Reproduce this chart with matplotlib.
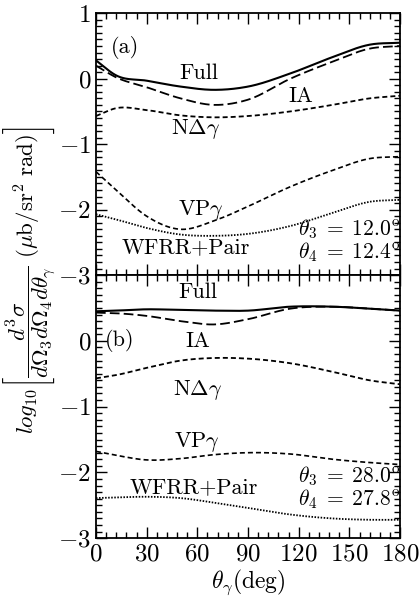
import matplotlib
matplotlib.use('Agg')
import matplotlib.pyplot as plt
import numpy as np
from matplotlib.ticker import MultipleLocator

plt.rcParams['font.family'] = 'cmr10'
plt.rcParams['mathtext.fontset'] = 'cm'
plt.rcParams['axes.formatter.use_mathtext'] = True
plt.rcParams['lines.scale_dashes'] = False

# panel (a): theta3 = 12.0, theta4 = 12.4
theta = [0, 12, 30, 50, 70, 90, 115, 140, 162, 180]
full_a = [0.28, 0.05, -0.03, -0.12, -0.17, -0.12, 0.08, 0.33, 0.52, 0.55]
ia_a = [0.20, 0.02, -0.13, -0.30, -0.40, -0.32, 0.00, 0.26, 0.46, 0.50]
ndg_a = [-0.57, -0.45, -0.48, -0.56, -0.59, -0.57, -0.50, -0.40, -0.30, -0.26]
vpg_a = [-1.42, -1.70, -2.10, -2.30, -2.17, -1.95, -1.65, -1.40, -1.22, -1.19]
wfrr_a = [-2.07, -2.15, -2.28, -2.38, -2.40, -2.37, -2.25, -2.05, -1.88, -1.85]

# panel (b): theta3 = 28.0, theta4 = 27.8
full_b = [0.45, 0.46, 0.48, 0.47, 0.46, 0.46, 0.52, 0.52, 0.49, 0.46]
ia_b = [0.43, 0.42, 0.38, 0.30, 0.25, 0.33, 0.49, 0.52, 0.49, 0.46]
ndg_b = [-0.57, -0.52, -0.41, -0.30, -0.26, -0.27, -0.34, -0.47, -0.60, -0.66]
vpg_b = [-1.68, -1.74, -1.81, -1.79, -1.73, -1.70, -1.72, -1.80, -1.85, -1.88]
wfrr_b = [-2.39, -2.38, -2.37, -2.39, -2.46, -2.54, -2.64, -2.70, -2.72, -2.72]

styles = {
    'full': dict(ls='-', lw=1.5),
    'ia': dict(ls=(0, (7, 3)), lw=1.3),
    'ndg': dict(ls=(0, (3.6, 2.2)), lw=1.3),
    'vpg': dict(ls=(0, (3.6, 2.2)), lw=1.2),
    'wfrr': dict(ls=(0, (1.1, 1.1)), lw=1.3),
}


def smooth(x, y):
    """ Cubic Hermite curve through the read points """
    x = np.asarray(x, float)
    y = np.asarray(y, float)
    m = np.gradient(y, x)
    xs = np.linspace(x[0], x[-1], 361)
    idx = np.clip(np.searchsorted(x, xs, side='right') - 1, 0, len(x) - 2)
    h = x[idx + 1] - x[idx]
    t = (xs - x[idx]) / h
    h00 = 2 * t**3 - 3 * t**2 + 1
    h10 = t**3 - 2 * t**2 + t
    h01 = -2 * t**3 + 3 * t**2
    h11 = t**3 - t**2
    ys = h00 * y[idx] + h10 * h * m[idx] + h01 * y[idx + 1] + h11 * h * m[idx + 1]
    return xs, ys


def setup(ax):
    ax.set_xlim(0, 180)
    ax.set_ylim(-3, 1)
    ax.xaxis.set_major_locator(MultipleLocator(30))
    ax.xaxis.set_minor_locator(MultipleLocator(6))
    ax.yaxis.set_major_locator(MultipleLocator(1))
    ax.yaxis.set_minor_locator(MultipleLocator(0.1))
    ax.tick_params(which='both', direction='in', top=True, right=True,
                   labelsize=18, width=1)
    ax.tick_params(which='major', length=8)
    ax.tick_params(which='minor', length=4)
    for s in ax.spines.values():
        s.set_linewidth(1.3)


fig = plt.figure(figsize=(4.19, 6.02), dpi=100)
ax1 = fig.add_axes([0.229, 0.543, 0.726, 0.435])
ax2 = fig.add_axes([0.229, 0.106, 0.726, 0.437])

for ax, data in [(ax1, (full_a, ia_a, ndg_a, vpg_a, wfrr_a)),
                 (ax2, (full_b, ia_b, ndg_b, vpg_b, wfrr_b))]:
    for key, y in zip(['full', 'ia', 'ndg', 'vpg', 'wfrr'], data):
        xs, ys = smooth(theta, y)
        ax.plot(xs, ys, color='black', **styles[key])
    setup(ax)

ax1.set_yticks([-3, -2, -1, 0, 1])
ax1.set_yticklabels(['$-3$', '$-2$', '$-1$', '$0$', '$1$'])
ax1.tick_params(labelbottom=False)
ax2.set_yticks([-3, -2, -1, 0, 1])
ax2.set_yticklabels(['$-3$', '$-2$', '$-1$', '$0$', ''])

fs = 16
deg = r'^{\mathrm{o}}'
ax1.text(17, 0.48, '(a)', fontsize=fs, ha='center', va='center')
ax1.text(61, 0.08, 'Full', fontsize=fs, ha='center', va='center')
ax1.text(121, -0.27, 'IA', fontsize=fs, ha='center', va='center')
ax1.text(59, -0.77, r'N$\Delta\gamma$', fontsize=fs, ha='center', va='center')
ax1.text(62, -2.0, r'VP$\gamma$', fontsize=fs, ha='center', va='center')
ax1.text(53, -2.58, 'WFRR+Pair', fontsize=fs, ha='center', va='center')
ax1.text(180, -2.30, r'$\theta_3\;=\;12.0' + deg + '$', fontsize=15.5, ha='right', va='center')
ax1.text(180, -2.65, r'$\theta_4\;=\;12.4' + deg + '$', fontsize=15.5, ha='right', va='center')

ax2.text(60, 0.74, 'Full', fontsize=fs, ha='center', va='center')
ax2.text(14, 0.0, '(b)', fontsize=fs, ha='center', va='center')
ax2.text(60, 0.0, 'IA', fontsize=fs, ha='center', va='center')
ax2.text(60, -0.74, r'N$\Delta\gamma$', fontsize=fs, ha='center', va='center')
ax2.text(60, -1.53, r'VP$\gamma$', fontsize=fs, ha='center', va='center')
ax2.text(58, -2.22, 'WFRR+Pair', fontsize=fs, ha='center', va='center')
ax2.text(180, -2.06, r'$\theta_3\;=\;28.0' + deg + '$', fontsize=15.5, ha='right', va='center')
ax2.text(180, -2.41, r'$\theta_4\;=\;27.8' + deg + '$', fontsize=15.5, ha='right', va='center')

ax2.set_xticks([0, 30, 60, 90, 120, 150, 180])
ax2.set_xticklabels(['$0$', '$30$', '$60$', '$90$', '$120$', '$150$', '$180$'])
ax2.set_xlabel(r'$\boldsymbol{\theta_\gamma}$(deg)', fontsize=17, labelpad=2)

fig.text(0.072, 0.535,
         r'$log_{10}\left[\dfrac{d^3\sigma}{d\Omega_3 d\Omega_4 d\theta_\gamma}\ (\mu\mathrm{b/sr^2\ rad})\right]$',
         rotation=90, fontsize=16.5, ha='center', va='center')

fig.savefig('out.png', dpi=100)
